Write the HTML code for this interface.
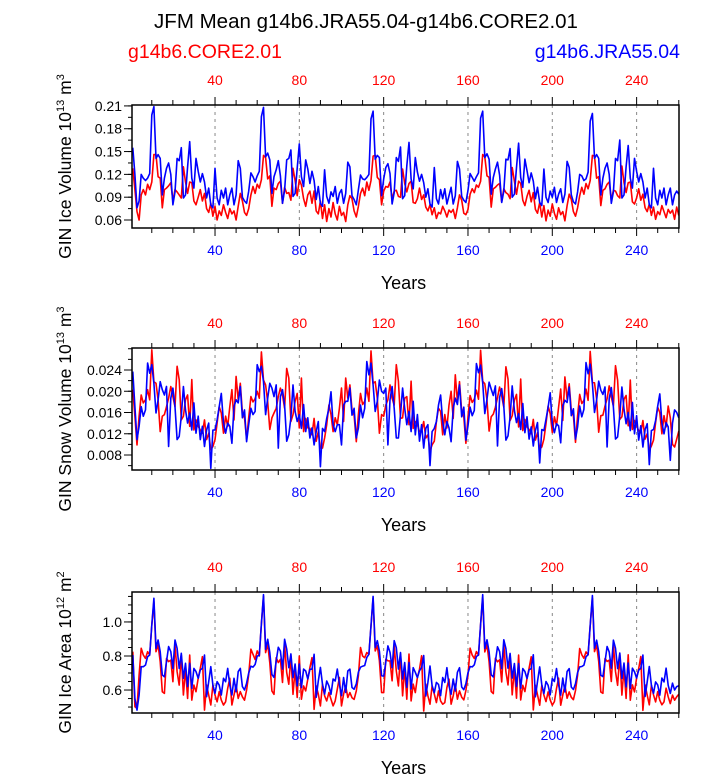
<!DOCTYPE html>
<html><head><meta charset="utf-8"><style>
html,body{margin:0;padding:0;background:#fff;}
svg text{font-family:"Liberation Sans",Arial,sans-serif;}
</style></head><body>
<svg id="chart" width="723" height="775" xmlns="http://www.w3.org/2000/svg">
<text x="366" y="28" font-size="20.5" text-anchor="middle">JFM Mean g14b6.JRA55.04-g14b6.CORE2.01</text>
<text x="128" y="58" font-size="19.5" fill="#ff0000">g14b6.CORE2.01</text>
<text x="680" y="58" font-size="19.5" fill="#0000ff" text-anchor="end">g14b6.JRA55.04</text>
</svg>
<script>
const years0 = 1;
const xTicks = [40,80,120,160,200,240];
const volCore1=[.128,.100,.071,.060,.093,.100,.093,.107,.100,.110,.146,.146,.117,.115,.076,.100,.102,.105,.109,.085,.100,.097,.093,.089,.130,.110,.095,.110,.109,.085,.080,.090,.100,.085,.095,.075,.070,.082,.065,.078,.060,.072,.066,.080,.070,.062,.075,.068,.072,.060,.078,.095];
const volCore2=[.085,.070,.066,.075,.093,.104,.095,.107,.102,.113,.145,.142,.114,.118,.078,.102,.100,.108,.111,.082,.103,.095,.096,.086,.128,.112,.092,.113,.106,.088,.078,.093,.098,.082,.098,.072,.068,.085,.062,.080,.058,.075,.064,.083,.068,.060,.078,.066,.070,.058,.080,.092];
const volCore3=[.088,.072,.064,.078,.095,.102,.092,.110,.099,.112,.144,.145,.116,.113,.080,.098,.104,.103,.110,.087,.098,.099,.091,.090,.127,.108,.097,.108,.111,.083,.082,.088,.102,.087,.093,.077,.072,.080,.067,.076,.062,.070,.068,.078,.072,.064,.073,.070,.074,.062,.076,.093];
const volCore4=[.086,.069,.067,.074,.094,.101,.096,.106,.103,.111,.146,.143,.118,.116,.077,.101,.103,.106,.108,.084,.101,.096,.094,.088,.129,.111,.094,.111,.108,.086,.079,.091,.099,.084,.096,.074,.069,.083,.064,.079,.059,.073,.065,.081,.069,.061,.076,.067,.071,.059,.079,.094];
const volCore5=[.087,.071,.065,.076,.092,.103,.094,.108,.101,.112,.145,.144,.115,.117,.079,.099,.101,.107,.110,.086,.099,.098,.092,.089,.131,.109,.096,.109,.110,.084,.081,.089,.101,.086,.094,.076,.071,.081,.066,.077,.061,.071,.067,.079,.071,.063,.074,.069,.073,.061,.077,.066];
const volJra1=[.155,.120,.076,.085,.120,.115,.112,.115,.121,.198,.209,.141,.146,.141,.093,.115,.128,.135,.120,.080,.097,.141,.138,.155,.089,.093,.130,.163,.115,.102,.141,.124,.110,.121,.110,.089,.102,.080,.076,.128,.089,.080,.099,.089,.102,.080,.093,.102,.080,.093,.138,.128];
const volJra2=[.090,.085,.082,.098,.122,.117,.110,.118,.124,.196,.208,.143,.148,.139,.095,.117,.126,.138,.118,.082,.099,.139,.141,.152,.091,.095,.128,.160,.117,.104,.139,.127,.108,.124,.112,.087,.104,.082,.078,.126,.091,.082,.097,.091,.104,.082,.095,.100,.082,.095,.136,.130];
const volJra3=[.092,.087,.080,.100,.119,.114,.113,.116,.120,.193,.203,.140,.145,.142,.092,.114,.129,.134,.121,.081,.096,.142,.137,.156,.088,.092,.131,.162,.114,.101,.142,.123,.111,.120,.109,.090,.101,.081,.077,.129,.088,.081,.100,.088,.101,.081,.092,.103,.081,.092,.137,.127];
const volJra4=[.091,.086,.083,.099,.121,.116,.111,.117,.122,.194,.203,.142,.147,.140,.094,.116,.127,.136,.119,.083,.098,.140,.139,.154,.090,.094,.129,.161,.116,.103,.140,.125,.109,.122,.111,.088,.103,.083,.079,.127,.090,.083,.098,.090,.103,.083,.094,.101,.083,.094,.137,.129];
const volJra5=[.093,.084,.081,.097,.120,.118,.112,.114,.123,.190,.200,.141,.146,.141,.093,.115,.128,.135,.120,.082,.097,.141,.138,.165,.089,.093,.130,.158,.115,.102,.141,.124,.110,.121,.110,.089,.102,.080,.076,.128,.089,.080,.099,.089,.102,.080,.093,.102,.080,.093,.098,.094];
const snowCore1=[.0203,.0153,.0099,.0153,.0193,.0178,.0184,.0203,.0184,.0278,.0218,.0215,.0184,.0124,.0153,.0156,.0171,.0187,.0209,.0190,.0171,.0247,.0222,.0146,.0153,.0184,.0193,.0134,.0222,.0127,.0146,.0134,.0127,.0121,.0146,.0109,.0121,.0090,.0096,.0109,.0140,.0171,.0159,.0121,.0153,.0134,.0171,.0203,.0146,.0228,.0184,.0215];
const snowCore2=[.0160,.0150,.0110,.0150,.0190,.0180,.0186,.0200,.0187,.0274,.0221,.0212,.0180,.0128,.0150,.0159,.0168,.0190,.0206,.0193,.0168,.0243,.0225,.0143,.0156,.0181,.0196,.0131,.0225,.0124,.0149,.0131,.0130,.0118,.0149,.0106,.0124,.0093,.0093,.0112,.0137,.0174,.0156,.0124,.0150,.0137,.0168,.0206,.0143,.0225,.0187,.0212];
const snowCore3=[.0165,.0155,.0105,.0156,.0196,.0175,.0181,.0206,.0181,.0276,.0215,.0218,.0187,.0121,.0156,.0153,.0174,.0184,.0212,.0187,.0174,.0250,.0219,.0149,.0150,.0187,.0190,.0137,.0219,.0130,.0143,.0137,.0124,.0124,.0143,.0112,.0118,.0087,.0099,.0106,.0143,.0168,.0162,.0118,.0156,.0131,.0174,.0200,.0149,.0231,.0181,.0218];
const snowCore4=[.0162,.0152,.0102,.0152,.0192,.0179,.0185,.0202,.0185,.0277,.0219,.0214,.0183,.0125,.0152,.0157,.0170,.0188,.0208,.0191,.0170,.0246,.0223,.0145,.0154,.0183,.0194,.0133,.0223,.0126,.0147,.0133,.0128,.0120,.0147,.0108,.0122,.0091,.0095,.0110,.0139,.0172,.0158,.0122,.0152,.0135,.0170,.0204,.0145,.0227,.0185,.0214];
const snowCore5=[.0164,.0154,.0104,.0154,.0194,.0177,.0183,.0204,.0183,.0275,.0217,.0216,.0185,.0123,.0154,.0155,.0172,.0186,.0210,.0189,.0172,.0248,.0221,.0147,.0152,.0185,.0192,.0135,.0221,.0128,.0145,.0135,.0126,.0122,.0145,.0110,.0120,.0089,.0097,.0108,.0141,.0170,.0160,.0120,.0154,.0133,.0172,.0150,.0100,.0095,.0110,.0125];
const snowJra1=[.0237,.0171,.0109,.0134,.0171,.0153,.0165,.0253,.0234,.0250,.0215,.0159,.0184,.0218,.0203,.0193,.0209,.0096,.0187,.0206,.0171,.0109,.0115,.0153,.0209,.0165,.0140,.0159,.0127,.0178,.0121,.0153,.0109,.0134,.0096,.0127,.0140,.0055,.0127,.0127,.0146,.0171,.0196,.0140,.0121,.0140,.0134,.0102,.0171,.0184,.0178,.0209];
const snowJra2=[.0150,.0165,.0105,.0137,.0168,.0156,.0162,.0250,.0237,.0247,.0218,.0156,.0187,.0215,.0206,.0190,.0212,.0093,.0190,.0203,.0174,.0106,.0118,.0150,.0212,.0162,.0143,.0156,.0130,.0175,.0124,.0150,.0112,.0131,.0099,.0124,.0143,.0058,.0130,.0124,.0149,.0168,.0199,.0137,.0124,.0137,.0137,.0099,.0174,.0181,.0181,.0206];
const snowJra3=[.0155,.0168,.0112,.0131,.0174,.0150,.0168,.0256,.0231,.0253,.0212,.0162,.0181,.0221,.0200,.0196,.0206,.0099,.0184,.0209,.0168,.0112,.0112,.0156,.0206,.0168,.0137,.0162,.0124,.0181,.0118,.0156,.0106,.0137,.0093,.0130,.0137,.0060,.0124,.0130,.0143,.0174,.0193,.0143,.0118,.0143,.0131,.0105,.0168,.0187,.0175,.0212];
const snowJra4=[.0152,.0170,.0108,.0135,.0170,.0154,.0164,.0252,.0235,.0249,.0216,.0158,.0185,.0217,.0204,.0192,.0210,.0097,.0188,.0205,.0172,.0108,.0116,.0152,.0210,.0164,.0141,.0158,.0128,.0177,.0122,.0152,.0110,.0133,.0097,.0126,.0141,.0065,.0128,.0126,.0147,.0170,.0197,.0139,.0122,.0139,.0135,.0103,.0172,.0183,.0179,.0208];
const snowJra5=[.0154,.0167,.0110,.0133,.0172,.0152,.0166,.0254,.0233,.0251,.0214,.0160,.0183,.0219,.0202,.0194,.0208,.0095,.0186,.0207,.0170,.0110,.0114,.0154,.0208,.0166,.0139,.0160,.0126,.0179,.0120,.0154,.0108,.0135,.0095,.0128,.0139,.0062,.0126,.0128,.0145,.0172,.0195,.0141,.0120,.0141,.0133,.0070,.0140,.0165,.0160,.0150];
const areaCore1=[.825,.502,.492,.688,.845,.806,.786,.825,.806,.982,1.119,.825,.865,.767,.590,.580,.786,.767,.776,.649,.865,.708,.629,.806,.571,.727,.551,.806,.541,.629,.590,.669,.727,.796,.482,.629,.571,.512,.629,.571,.531,.590,.541,.512,.531,.610,.669,.512,.571,.629,.551,.590];
const areaCore2=[.560,.540,.600,.690,.840,.810,.780,.830,.800,.990,1.150,.820,.870,.760,.595,.575,.790,.762,.780,.645,.870,.703,.634,.800,.575,.722,.556,.800,.546,.624,.595,.664,.732,.790,.487,.624,.576,.507,.634,.566,.536,.585,.546,.507,.536,.605,.674,.507,.576,.624,.556,.585];
const areaCore3=[.555,.545,.595,.685,.850,.800,.790,.820,.810,.975,1.140,.830,.860,.772,.585,.585,.781,.772,.771,.654,.860,.713,.624,.811,.566,.732,.546,.811,.536,.634,.585,.674,.722,.801,.477,.634,.566,.517,.624,.576,.526,.595,.536,.517,.526,.615,.664,.517,.566,.634,.546,.595];
const areaCore4=[.558,.542,.598,.688,.846,.805,.785,.826,.805,.985,1.145,.824,.866,.766,.591,.579,.787,.766,.777,.648,.866,.707,.630,.805,.572,.726,.552,.805,.542,.628,.591,.668,.728,.795,.483,.628,.572,.511,.630,.570,.532,.589,.542,.511,.532,.609,.670,.511,.572,.628,.552,.589];
const areaCore5=[.557,.543,.597,.687,.844,.807,.787,.824,.807,.980,1.140,.826,.864,.768,.589,.581,.785,.768,.775,.650,.864,.709,.628,.807,.570,.728,.550,.807,.540,.630,.589,.670,.726,.797,.481,.630,.570,.513,.628,.572,.530,.591,.540,.513,.530,.611,.560,.520,.570,.540,.560,.575];
const areaJra1=[.806,.551,.482,.571,.737,.737,.747,.796,.806,.982,1.139,.845,.894,.825,.688,.678,.767,.855,.825,.727,.894,.845,.727,.816,.669,.757,.620,.757,.610,.727,.708,.669,.718,.727,.806,.561,.649,.737,.629,.580,.649,.629,.571,.669,.649,.727,.629,.571,.669,.590,.708,.727];
const areaJra2=[.620,.600,.640,.700,.740,.735,.750,.800,.803,.990,1.160,.840,.898,.820,.692,.674,.771,.851,.829,.723,.898,.841,.731,.812,.673,.753,.624,.753,.614,.723,.712,.665,.722,.723,.810,.557,.653,.733,.633,.576,.653,.625,.575,.665,.653,.723,.633,.567,.673,.586,.712,.723];
const areaJra3=[.615,.605,.636,.705,.734,.740,.744,.792,.810,.978,1.150,.849,.890,.829,.684,.682,.763,.859,.821,.731,.890,.849,.723,.820,.665,.761,.616,.761,.606,.731,.704,.673,.714,.731,.802,.565,.645,.741,.625,.584,.645,.633,.567,.673,.645,.731,.625,.575,.665,.594,.704,.731];
const areaJra4=[.618,.602,.638,.702,.738,.736,.748,.797,.806,.985,1.160,.844,.895,.824,.689,.677,.768,.854,.826,.726,.895,.844,.728,.815,.670,.756,.621,.756,.611,.726,.709,.668,.719,.726,.807,.560,.650,.736,.630,.579,.650,.628,.572,.668,.650,.726,.630,.570,.670,.589,.709,.726];
const areaJra5=[.617,.603,.637,.703,.736,.738,.746,.795,.808,.980,1.155,.846,.893,.826,.687,.679,.766,.856,.824,.728,.893,.846,.726,.817,.668,.758,.619,.758,.609,.728,.707,.670,.717,.728,.805,.562,.648,.738,.628,.581,.648,.630,.570,.670,.648,.728,.628,.580,.640,.600,.620,.625];
const volCore=[...volCore1,...volCore2,...volCore3,...volCore4,...volCore5];
const volJra=[...volJra1,...volJra2,...volJra3,...volJra4,...volJra5];
const snowCore=[...snowCore1,...snowCore2,...snowCore3,...snowCore4,...snowCore5];
const snowJra=[...snowJra1,...snowJra2,...snowJra3,...snowJra4,...snowJra5];
const areaCore=[...areaCore1,...areaCore2,...areaCore3,...areaCore4,...areaCore5];
const areaJra=[...areaJra1,...areaJra2,...areaJra3,...areaJra4,...areaJra5];
const volTicks=[0.06,0.09,0.12,0.15,0.18,0.21];
const volTickLabels=["0.06","0.09","0.12","0.15","0.18","0.21"];
const snowTicks=[0.008,0.012,0.016,0.020,0.024];
const snowTickLabels=["0.008","0.012","0.016","0.020","0.024"];
const areaTicks=[0.6,0.8,1.0];
const areaTickLabels=["0.6","0.8","1.0"];

const NS="http://www.w3.org/2000/svg";
const svg=document.getElementById('chart');
function mk(tag,attrs,parent){const e=document.createElementNS(NS,tag);for(const k in attrs)e.setAttribute(k,attrs[k]);(parent||svg).appendChild(e);return e;}
const L=132,R=679;
function xs(yr){return 130.7+yr*2.108;}

const panels=[
 {name:'ice-volume',top:105,bot:228,ymin:0.0495,ymax:0.2112,ticks:volTicks,labels:volTickLabels,minor:0.015,core:volCore,jra:volJra,title:'GIN Ice Volume 10',exp:'13',unit:' m',uexp:'3'},
 {name:'snow-volume',top:348,bot:470,ymin:0.00518,ymax:0.02814,ticks:snowTicks,labels:snowTickLabels,minor:0.002,core:snowCore,jra:snowJra,title:'GIN Snow Volume 10',exp:'13',unit:' m',uexp:'3'},
 {name:'ice-area',top:592,bot:713,ymin:0.465,ymax:1.176,ticks:areaTicks,labels:areaTickLabels,minor:0.05,core:areaCore,jra:areaJra,title:'GIN Ice Area 10',exp:'12',unit:' m',uexp:'2'}
];
panels.forEach(p=>{
 const g=mk('g',{});
 
 
 const ys=v=>p.bot-(v-p.ymin)/(p.ymax-p.ymin)*(p.bot-p.top);
 xTicks.forEach(t=>{
  const ln=mk('line',{x1:xs(t),x2:xs(t),y1:p.top,y2:p.bot,stroke:'#888',"stroke-width":1,"stroke-dasharray":'3,4'},g);
  
  
 });
 for(let t=10;t<=260;t+=10){
  const big=t%40===0;
  mk('line',{x1:xs(t),x2:xs(t),y1:p.top,y2:p.top-(big?8:5),stroke:'#000',"stroke-width":1},g);
  mk('line',{x1:xs(t),x2:xs(t),y1:p.bot,y2:p.bot+(big?8:5),stroke:'#000',"stroke-width":1},g);
 }
 xTicks.forEach(t=>{
  const a=mk('text',{x:xs(t),y:p.top-20,"font-size":14,fill:'#ff0000',"text-anchor":'middle'},g);a.textContent=t;
  
  
  const b=mk('text',{x:xs(t),y:p.bot+27,"font-size":14,fill:'#0000ff',"text-anchor":'middle'},g);b.textContent=t;
  
  
 });
 for(let v=p.ticks[0]-p.minor*4;v<=p.ymax;v+=p.minor){
  if(v<p.ymin)continue;
  mk('line',{x1:L,x2:L-4,y1:ys(v),y2:ys(v),stroke:'#000',"stroke-width":1},g);
 }
 p.ticks.forEach((v,i)=>{
  mk('line',{x1:L,x2:L-8,y1:ys(v),y2:ys(v),stroke:'#000',"stroke-width":1},g);
  const t=mk('text',{x:L-10,y:ys(v)+5,"font-size":14,"text-anchor":'end'},g);t.textContent=p.labels[i];
  
  
 });
 [['core',p.core,'#ff0000'],['jra',p.jra,'#0000ff']].forEach(([n,arr,c])=>{
  const pts=arr.map((v,i)=>xs(years0+i).toFixed(1)+','+ys(v).toFixed(1)).join(' ');
  const pl=mk('polyline',{points:pts,fill:'none',stroke:c,"stroke-width":1.6,"stroke-linejoin":'round'},g);
  
  
 });
 const fr=mk('rect',{x:L,y:p.top,width:R-L,height:p.bot-p.top,fill:'none',stroke:'#000',"stroke-width":1.5},g);
 
 
 const xt=mk('text',{x:(L+R)/2-2,y:p.bot+61,"font-size":18,"text-anchor":'middle'},g);xt.textContent='Years';
 
 
 const cy=(p.top+p.bot)/2;
 const yt=mk('text',{x:0,y:0,"font-size":17.5,"text-anchor":'middle',transform:`translate(71,${cy}) rotate(-90)`},g);
 
 
 yt.innerHTML=`${p.title}<tspan font-size="11" dy="-7">${p.exp}</tspan><tspan dy="7">${p.unit}</tspan><tspan font-size="11" dy="-7">${p.uexp}</tspan>`;
});
</script>
</body></html>
